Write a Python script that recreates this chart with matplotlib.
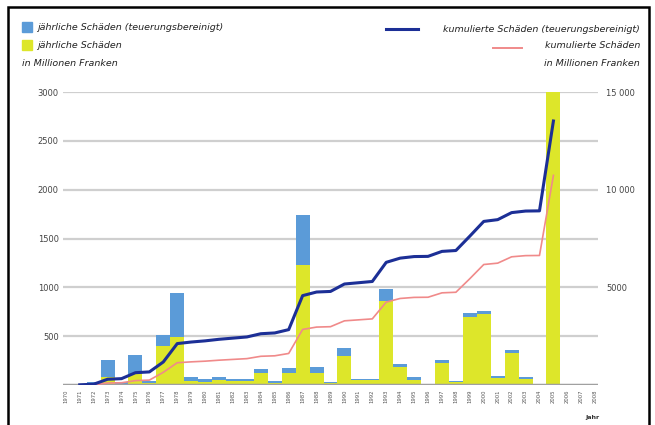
import matplotlib.pyplot as plt
import numpy as np
from matplotlib.patches import Rectangle
from matplotlib.lines import Line2D

# data
years = list(range(1971, 2006))
# jährliche Schäden teuerungsbereinigt, Mio. Fr.
damage_adj = [10, 30, 255, 30, 305, 40, 510, 940, 80, 60,
              80, 60, 60, 165, 40, 170, 1740, 185, 30, 380,
              65, 65, 980, 215, 80, 10, 255, 45, 735, 755,
              90, 360, 80, 10, 4600]
# jährliche Schäden nominal, Mio. Fr.
damage_nom = [5, 15, 80, 15, 110, 25, 400, 490, 45, 35,
              50, 40, 40, 120, 25, 120, 1230, 120, 20, 300,
              50, 50, 860, 185, 55, 8, 225, 30, 695, 725,
              70, 325, 60, 8, 4100]
tick_years = list(range(1970, 2009))
left_ticks = [500, 1000, 1500, 2000, 2500, 3000]
right_ticks = [5000, 10000, 15000]
right_labels = ['5000', '10 000', '15 000']

BLUE = '#5b9bd8'
YELLOW = '#dde62a'
NAVY = '#1c2f96'
PINK = '#f08a8a'

cum_adj = np.cumsum(damage_adj)
cum_nom = np.cumsum(damage_nom)

fig = plt.figure(figsize=(6.55, 4.25), dpi=100)
ax = fig.add_axes([63 / 655, 1 - 385 / 425, 535 / 655, 293 / 425])

# grid behind everything
for t in left_ticks:
    ax.axhline(t, color='#cfcfcf', lw=1.6, zorder=0)
ax.axhline(0, color='#a0a0a0', lw=2.5, zorder=3)

ax.bar(years, damage_adj, width=1.0, color=BLUE, zorder=1)
ax.bar(years, damage_nom, width=1.0, color=YELLOW, zorder=2)

ax.set_xlim(1969.8, 2008.2)
ax.set_ylim(0, 3000)
ax.set_yticks(left_ticks)
ax.set_yticklabels([str(t) for t in left_ticks], fontsize=6, color='#444444')
ax.set_xticks(tick_years)
ax.set_xticklabels([str(y) for y in tick_years], rotation=90, fontsize=3.8, color='#555555')
ax.tick_params(length=0, pad=3)
for s in ax.spines.values():
    s.set_visible(False)

ax2 = ax.twinx()
ax2.plot(years, cum_adj, color=NAVY, lw=2.2, zorder=5)
ax2.plot(years, cum_nom, color=PINK, lw=1.2, zorder=4)
ax2.set_ylim(0, 15000)
ax2.set_yticks(right_ticks)
ax2.set_yticklabels(right_labels, fontsize=6, color='#444444')
ax2.tick_params(length=0, pad=6)
for s in ax2.spines.values():
    s.set_visible(False)

# legend, drawn by hand in pixel coordinates
W, H = 655, 425
def fx(x): return x / W
def fy(y): return 1 - y / H

txt = dict(fontsize=6.8, style='italic', color='#222222', va='center')
fig.patches.append(Rectangle((fx(22), fy(32)), 10 / W, 10 / H, color=BLUE, transform=fig.transFigure))
fig.patches.append(Rectangle((fx(22), fy(50)), 10 / W, 10 / H, color=YELLOW, transform=fig.transFigure))
fig.text(fx(37), fy(27), 'jährliche Schäden (teuerungsbereinigt)', **txt)
fig.text(fx(37), fy(45), 'jährliche Schäden', **txt)
fig.text(fx(22), fy(64), 'in Millionen Franken', **txt)

fig.lines.append(Line2D([fx(386), fx(418)], [fy(29), fy(29)], color=NAVY, lw=2.2, transform=fig.transFigure))
fig.lines.append(Line2D([fx(493), fx(522)], [fy(48), fy(48)], color=PINK, lw=1.4, transform=fig.transFigure))
fig.text(fx(640), fy(29), 'kumulierte Schäden (teuerungsbereinigt)', ha='right', **txt)
fig.text(fx(640), fy(46), 'kumulierte Schäden', ha='right', **txt)
fig.text(fx(640), fy(63), 'in Millionen Franken', ha='right', **txt)

fig.text(fx(592), fy(418), 'Jahr', fontsize=4.5, weight='bold', color='#333333', ha='center', va='center')

# outer frame
fig.patches.append(Rectangle((fx(8), fy(432)), 641 / W, 425 / H, fill=False,
                             edgecolor='black', lw=1.8, transform=fig.transFigure))

fig.savefig('out.png', dpi=100)
